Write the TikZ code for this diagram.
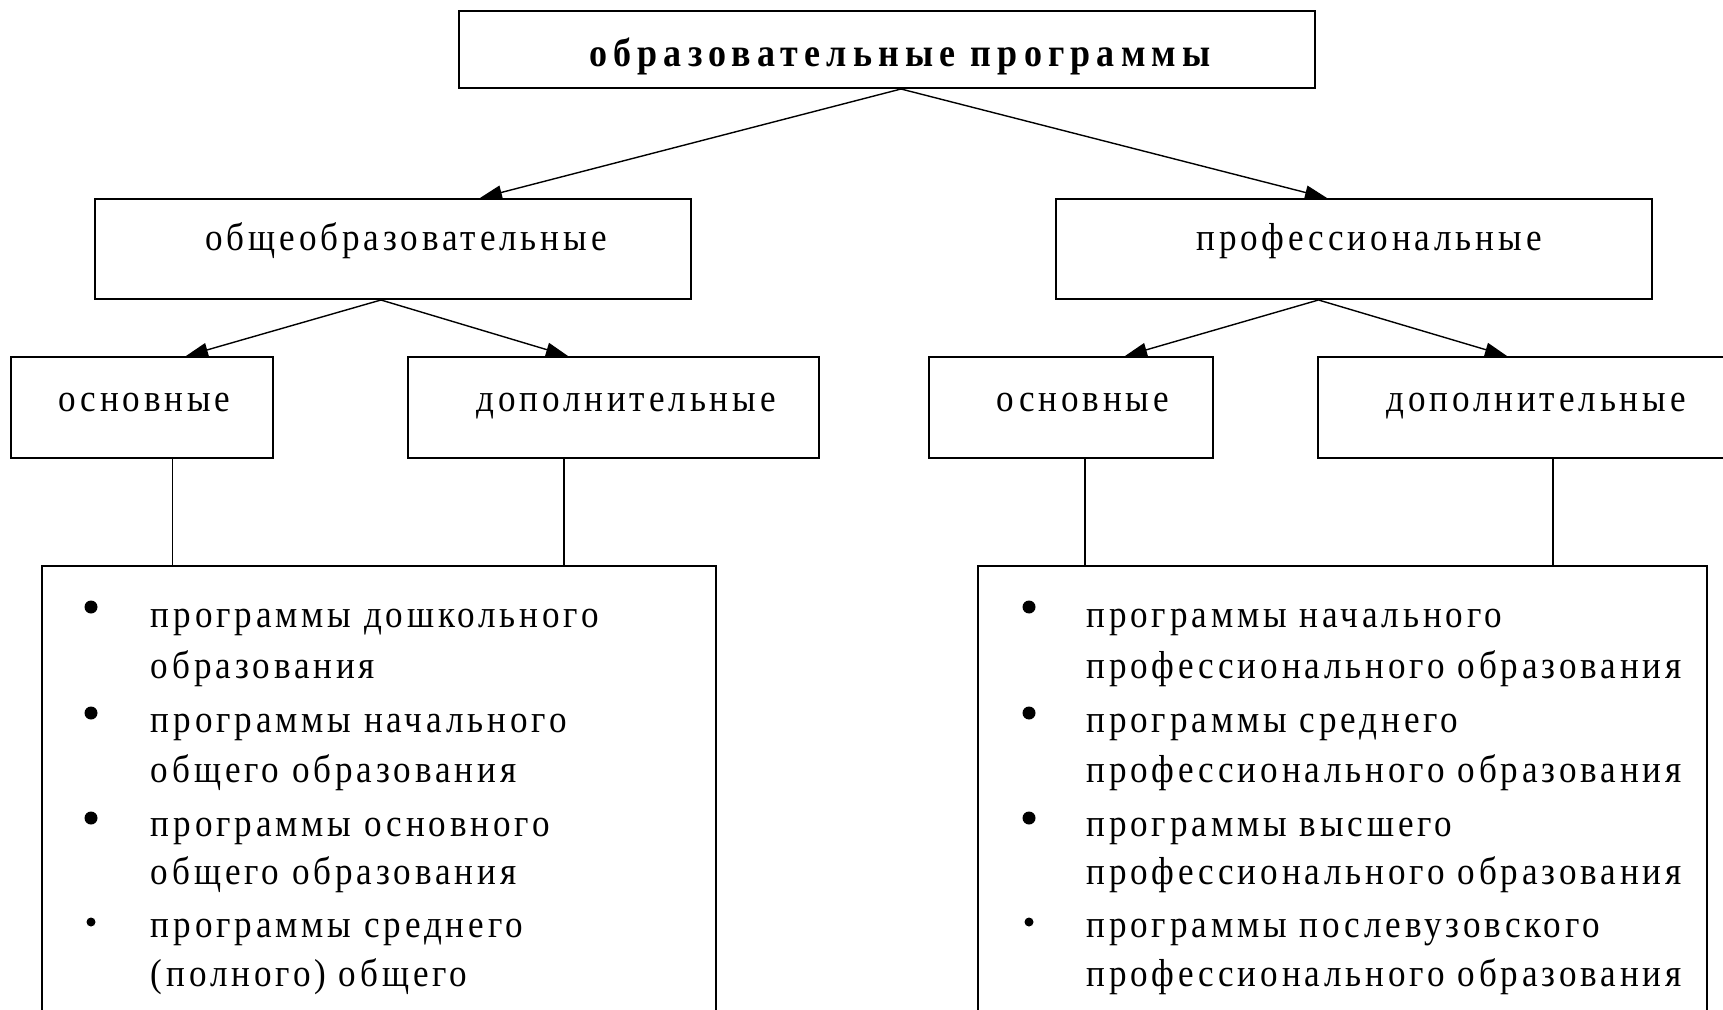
\documentclass[tikz,border=0pt]{standalone}
\usepackage{fontspec}
\setmainfont{Liberation Serif}
\newfontfamily\boxfont{Liberation Serif}[FakeStretch=0.9, LetterSpace=10]
\newfontfamily\headfont{Liberation Serif}[FakeStretch=0.9, LetterSpace=15.5]
\usetikzlibrary{arrows.meta}

\begin{document}
\begin{tikzpicture}[x=0.5pt, y=-0.5pt,
    box/.style={draw, line width=1pt, inner sep=0pt, minimum height=50.5pt},
    lbl/.style={anchor=base, inner sep=0pt, font=\boxfont\fontsize{19.5}{23}\selectfont},
    item/.style={anchor=base west, inner sep=0pt, font=\boxfont\fontsize{19.5}{23}\selectfont},
    dot/.style={circle, fill, inner sep=0pt, minimum size=6.5pt},
    smalldot/.style={dot, minimum size=4.5pt},
    arr/.style={line width=0.7pt, -{Triangle[length=11pt, width=7pt]}},
    link/.style={line width=0.8pt}]
  \useasboundingbox (0,0) rectangle (1723,1010);
  \clip (0,0) rectangle (1723,1010);
  \fill[white] (0,0) rectangle (1723,1010);

  % Boxes
  \node[box, minimum width=428pt, minimum height=38.5pt] (prog) at (887,49.5) {};
  \node[box, minimum width=298.25pt, minimum height=50pt] (gen) at (392.75,249) {};
  \node[box, minimum width=298pt, minimum height=50pt] (prof) at (1354,249) {};
  \node[box, minimum width=130.75pt] (osnL) at (141.75,407.5) {};
  \node[box, minimum width=205.5pt] (dopL) at (613.5,407.5) {};
  \node[box, minimum width=142pt] (osnR) at (1071,407.5) {};
  \node[box, minimum width=211pt] (dopR) at (1529,407.5) {};
  \node[box, minimum width=337pt, minimum height=237pt] (listL) at (379,803) {};
  \node[box, minimum width=364.5pt, minimum height=237pt] (listR) at (1342.5,803) {};

  % Labels
  \node[lbl, font=\headfont\bfseries\fontsize{20}{24}\selectfont] (progtxt) at (900,67) {образовательные программы};
  \node[lbl] (gentxt) at (406,251) {общеобразовательные};
  \node[lbl] (proftxt) at (1369,251) {профессиональные};
  \node[lbl] (osnLtxt) at (144.5,411) {основные};
  \node[lbl] (dopLtxt) at (626,411) {дополнительные};
  \node[lbl] (osnRtxt) at (1083,411) {основные};
  \node[lbl] (dopRtxt) at (1536,411) {дополнительные};

  % Left list
  \node[dot] (bl1) at (91,607) {};
  \node[dot] (bl2) at (91,713) {};
  \node[dot] (bl3) at (91,818) {};
  \node[smalldot] (bl4) at (91,922) {};
  \node[item] (l1a) at (150.5,627) {программы дошкольного};
  \node[item] (l1b) at (150.5,678) {образования};
  \node[item] (l2a) at (150.5,732) {программы начального};
  \node[item] (l2b) at (150.5,782) {общего образования};
  \node[item] (l3a) at (150.5,836) {программы основного};
  \node[item] (l3b) at (150.5,884) {общего образования};
  \node[item] (l4a) at (150.5,937) {программы среднего};
  \node[item] (l4b) at (150.5,986) {(полного) общего};

  % Right list
  \node[dot] (br1) at (1029,607) {};
  \node[dot] (br2) at (1029,713) {};
  \node[dot] (br3) at (1029,818) {};
  \node[smalldot] (br4) at (1029,922) {};
  \node[item] (r1a) at (1086,627) {программы начального};
  \node[item] (r1b) at (1086,678) {профессионального образования};
  \node[item] (r2a) at (1086,732) {программы среднего};
  \node[item] (r2b) at (1086,782) {профессионального образования};
  \node[item] (r3a) at (1086,836) {программы высшего};
  \node[item] (r3b) at (1086,884) {профессионального образования};
  \node[item] (r4a) at (1086,937) {программы послевузовского};
  \node[item] (r4b) at (1086,986) {профессионального образования};

  % Arrows
  \draw[arr] ([xshift=7pt]prog.south) -- ([xshift=43.6pt]gen.north);
  \draw[arr] ([xshift=7pt]prog.south) -- ([xshift=-13.5pt]prof.north);
  \draw[arr] ([xshift=-5.9pt]gen.south) -- ([xshift=22.1pt]osnL.north);
  \draw[arr] ([xshift=-5.9pt]gen.south) -- ([xshift=-22.75pt]dopL.north);
  \draw[arr] ([xshift=-17.75pt]prof.south) -- ([xshift=27pt]osnR.north);
  \draw[arr] ([xshift=-17.75pt]prof.south) -- ([xshift=-11pt]dopR.north);

  % Links to lists
  \draw[link] ([xshift=15.4pt]osnL.south) -- ([xshift=15.4pt]osnL.south |- listL.north);
  \draw[link] ([xshift=-24.75pt]dopL.south) -- ([xshift=-24.75pt]dopL.south |- listL.north);
  \draw[link] ([xshift=7pt]osnR.south) -- ([xshift=7pt]osnR.south |- listR.north);
  \draw[link] ([xshift=12pt]dopR.south) -- ([xshift=12pt]dopR.south |- listR.north);
\end{tikzpicture}
\end{document}
